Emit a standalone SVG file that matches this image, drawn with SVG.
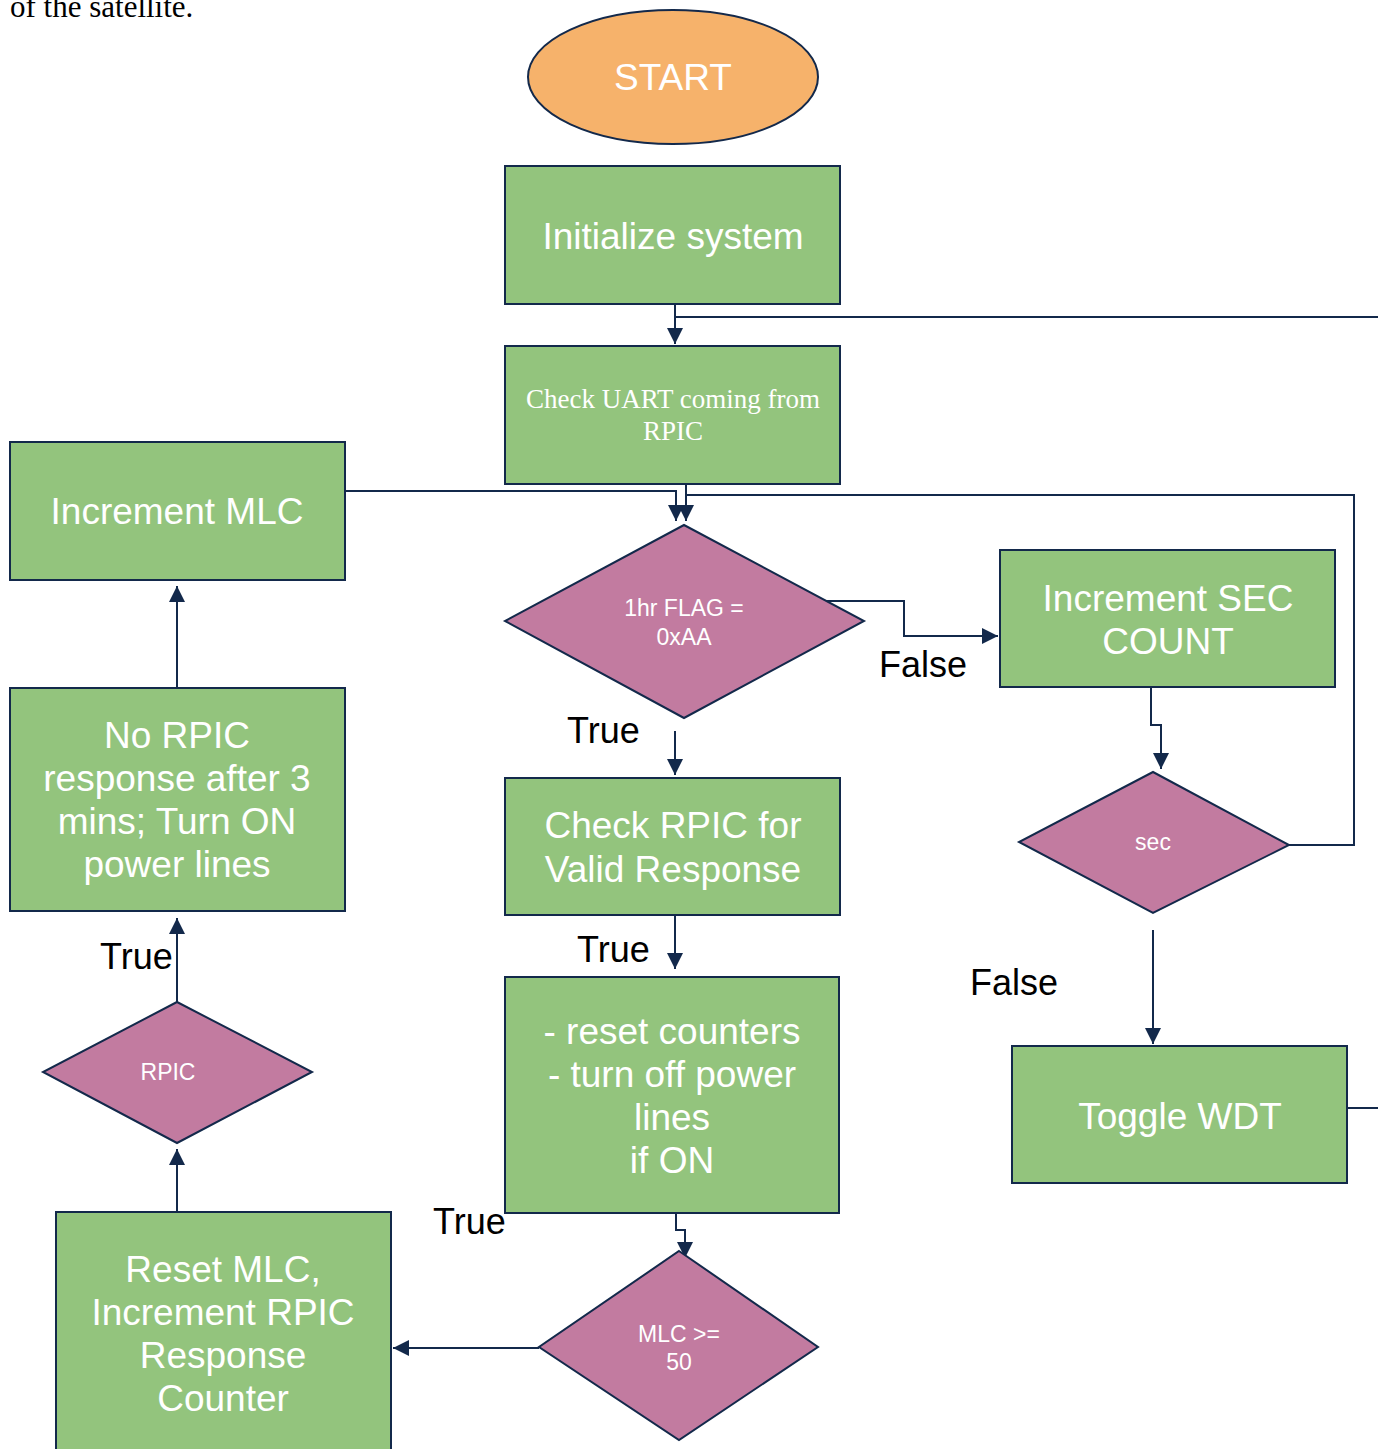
<svg xmlns="http://www.w3.org/2000/svg" width="1378" height="1449" viewBox="0 0 1378 1449">
<defs>
<style>
.box{fill:#93C47D;stroke:#13294B;stroke-width:2}
.dia{fill:#C27BA0;stroke:#13294B;stroke-width:2}
.ov{fill:#F6B26B;stroke:#13294B;stroke-width:2}
.t{font-family:"Liberation Sans",Arial,sans-serif;fill:#fff;text-anchor:middle}
.big{font-size:37px}
.sm{font-size:23px}
.serif{font-family:"Liberation Serif","Times New Roman",serif;font-size:27px;fill:#fff;text-anchor:middle}
.lbl{font-family:"Liberation Sans",Arial,sans-serif;font-size:36px;fill:#000}
.c{fill:none;stroke:#13294B;stroke-width:2}
</style>
<marker id="ah" viewBox="0 0 10 10" refX="10" refY="5" markerWidth="8" markerHeight="8" markerUnits="strokeWidth" orient="auto">
<path d="M0,0 L10,5 L0,10 z" fill="#13294B"/>
</marker>
</defs>
<rect width="1378" height="1449" fill="#fff"/>
<text x="10" y="17" font-family="Liberation Serif,Times New Roman,serif" font-size="31" fill="#000">of the satellite.</text>

<g id="connectors">
<path class="c" d="M675,304 V344" marker-end="url(#ah)"/>
<path class="c" d="M675,317 H1378"/>
<path class="c" d="M1347,1108 H1378"/>
<path class="c" d="M686,484 V521" marker-end="url(#ah)"/>
<path class="c" d="M345,491 H676 V521" marker-end="url(#ah)"/>
<path class="c" d="M1289,845 H1354 V495 H686"/>
<path class="c" d="M826,601 H904 V636 H998" marker-end="url(#ah)"/>
<path class="c" d="M675,731 V775" marker-end="url(#ah)"/>
<path class="c" d="M1151,681 V725 H1161 V769" marker-end="url(#ah)"/>
<path class="c" d="M1153,930 V1044" marker-end="url(#ah)"/>
<path class="c" d="M675,908 V969" marker-end="url(#ah)"/>
<path class="c" d="M676,1200 V1230 H685 V1258" marker-end="url(#ah)"/>
<path class="c" d="M539,1348 H393" marker-end="url(#ah)"/>
<path class="c" d="M177,1212 V1149" marker-end="url(#ah)"/>
<path class="c" d="M177,1002 V918" marker-end="url(#ah)"/>
<path class="c" d="M177,692 V586" marker-end="url(#ah)"/>
</g>

<g id="start">
<ellipse class="ov" cx="673" cy="77" rx="145" ry="67"/>
<text class="t big" x="673" y="90">START</text>
</g>
<g id="init">
<rect class="box" x="505" y="166" width="335" height="138"/>
<text class="t big" x="673" y="249">Initialize system</text>
</g>
<g id="uart">
<rect class="box" x="505" y="346" width="335" height="138"/>
<text class="serif" x="673" y="408">Check UART coming from</text>
<text class="serif" x="673" y="440">RPIC</text>
</g>
<g id="incmlc">
<rect class="box" x="10" y="442" width="335" height="138"/>
<text class="t big" x="177" y="524">Increment MLC</text>
</g>
<g id="flag">
<polygon class="dia" points="684,525 864,621 684,718 505,621"/>
<text class="t sm" x="684" y="616">1hr FLAG =</text>
<text class="t sm" x="684" y="645">0xAA</text>
</g>
<g id="incsec">
<rect class="box" x="1000" y="550" width="335" height="137"/>
<text class="t big" x="1168" y="611">Increment SEC</text>
<text class="t big" x="1168" y="654">COUNT</text>
</g>
<g id="checkrpic">
<rect class="box" x="505" y="778" width="335" height="137"/>
<text class="t big" x="673" y="838">Check RPIC for</text>
<text class="t big" x="673" y="882">Valid Response</text>
</g>
<g id="sec">
<polygon class="dia" points="1153,772 1289,845 1153,913 1019,842"/>
<text class="t sm" x="1153" y="850">sec</text>
</g>
<g id="wdt">
<rect class="box" x="1012" y="1046" width="335" height="137"/>
<text class="t big" x="1180" y="1129">Toggle WDT</text>
</g>
<g id="norpic">
<rect class="box" x="10" y="688" width="335" height="223"/>
<text class="t big" x="177" y="748">No RPIC</text>
<text class="t big" x="177" y="791">response after 3</text>
<text class="t big" x="177" y="834">mins; Turn ON</text>
<text class="t big" x="177" y="877">power lines</text>
</g>
<g id="rpic">
<polygon class="dia" points="177,1002 312,1072 177,1143 43,1072"/>
<text class="t sm" x="168" y="1080">RPIC</text>
</g>
<g id="reset">
<rect class="box" x="505" y="977" width="334" height="236"/>
<text class="t big" x="672" y="1044">- reset counters</text>
<text class="t big" x="672" y="1087">- turn off power</text>
<text class="t big" x="672" y="1130">lines</text>
<text class="t big" x="672" y="1173">if ON</text>
</g>
<g id="mlc">
<polygon class="dia" points="679,1251 818,1347 679,1440 539,1347"/>
<text class="t sm" x="679" y="1342">MLC &gt;=</text>
<text class="t sm" x="679" y="1370">50</text>
</g>
<g id="resetmlc">
<rect class="box" x="56" y="1212" width="335" height="250"/>
<text class="t big" x="223" y="1282">Reset MLC,</text>
<text class="t big" x="223" y="1325">Increment RPIC</text>
<text class="t big" x="223" y="1368">Response</text>
<text class="t big" x="223" y="1411">Counter</text>
</g>
<g id="labels">
<text class="lbl" x="879" y="677">False</text>
<text class="lbl" x="567" y="743">True</text>
<text class="lbl" x="970" y="995">False</text>
<text class="lbl" x="100" y="969">True</text>
<text class="lbl" x="577" y="962">True</text>
<text class="lbl" x="433" y="1234">True</text>
</g>
</svg>
